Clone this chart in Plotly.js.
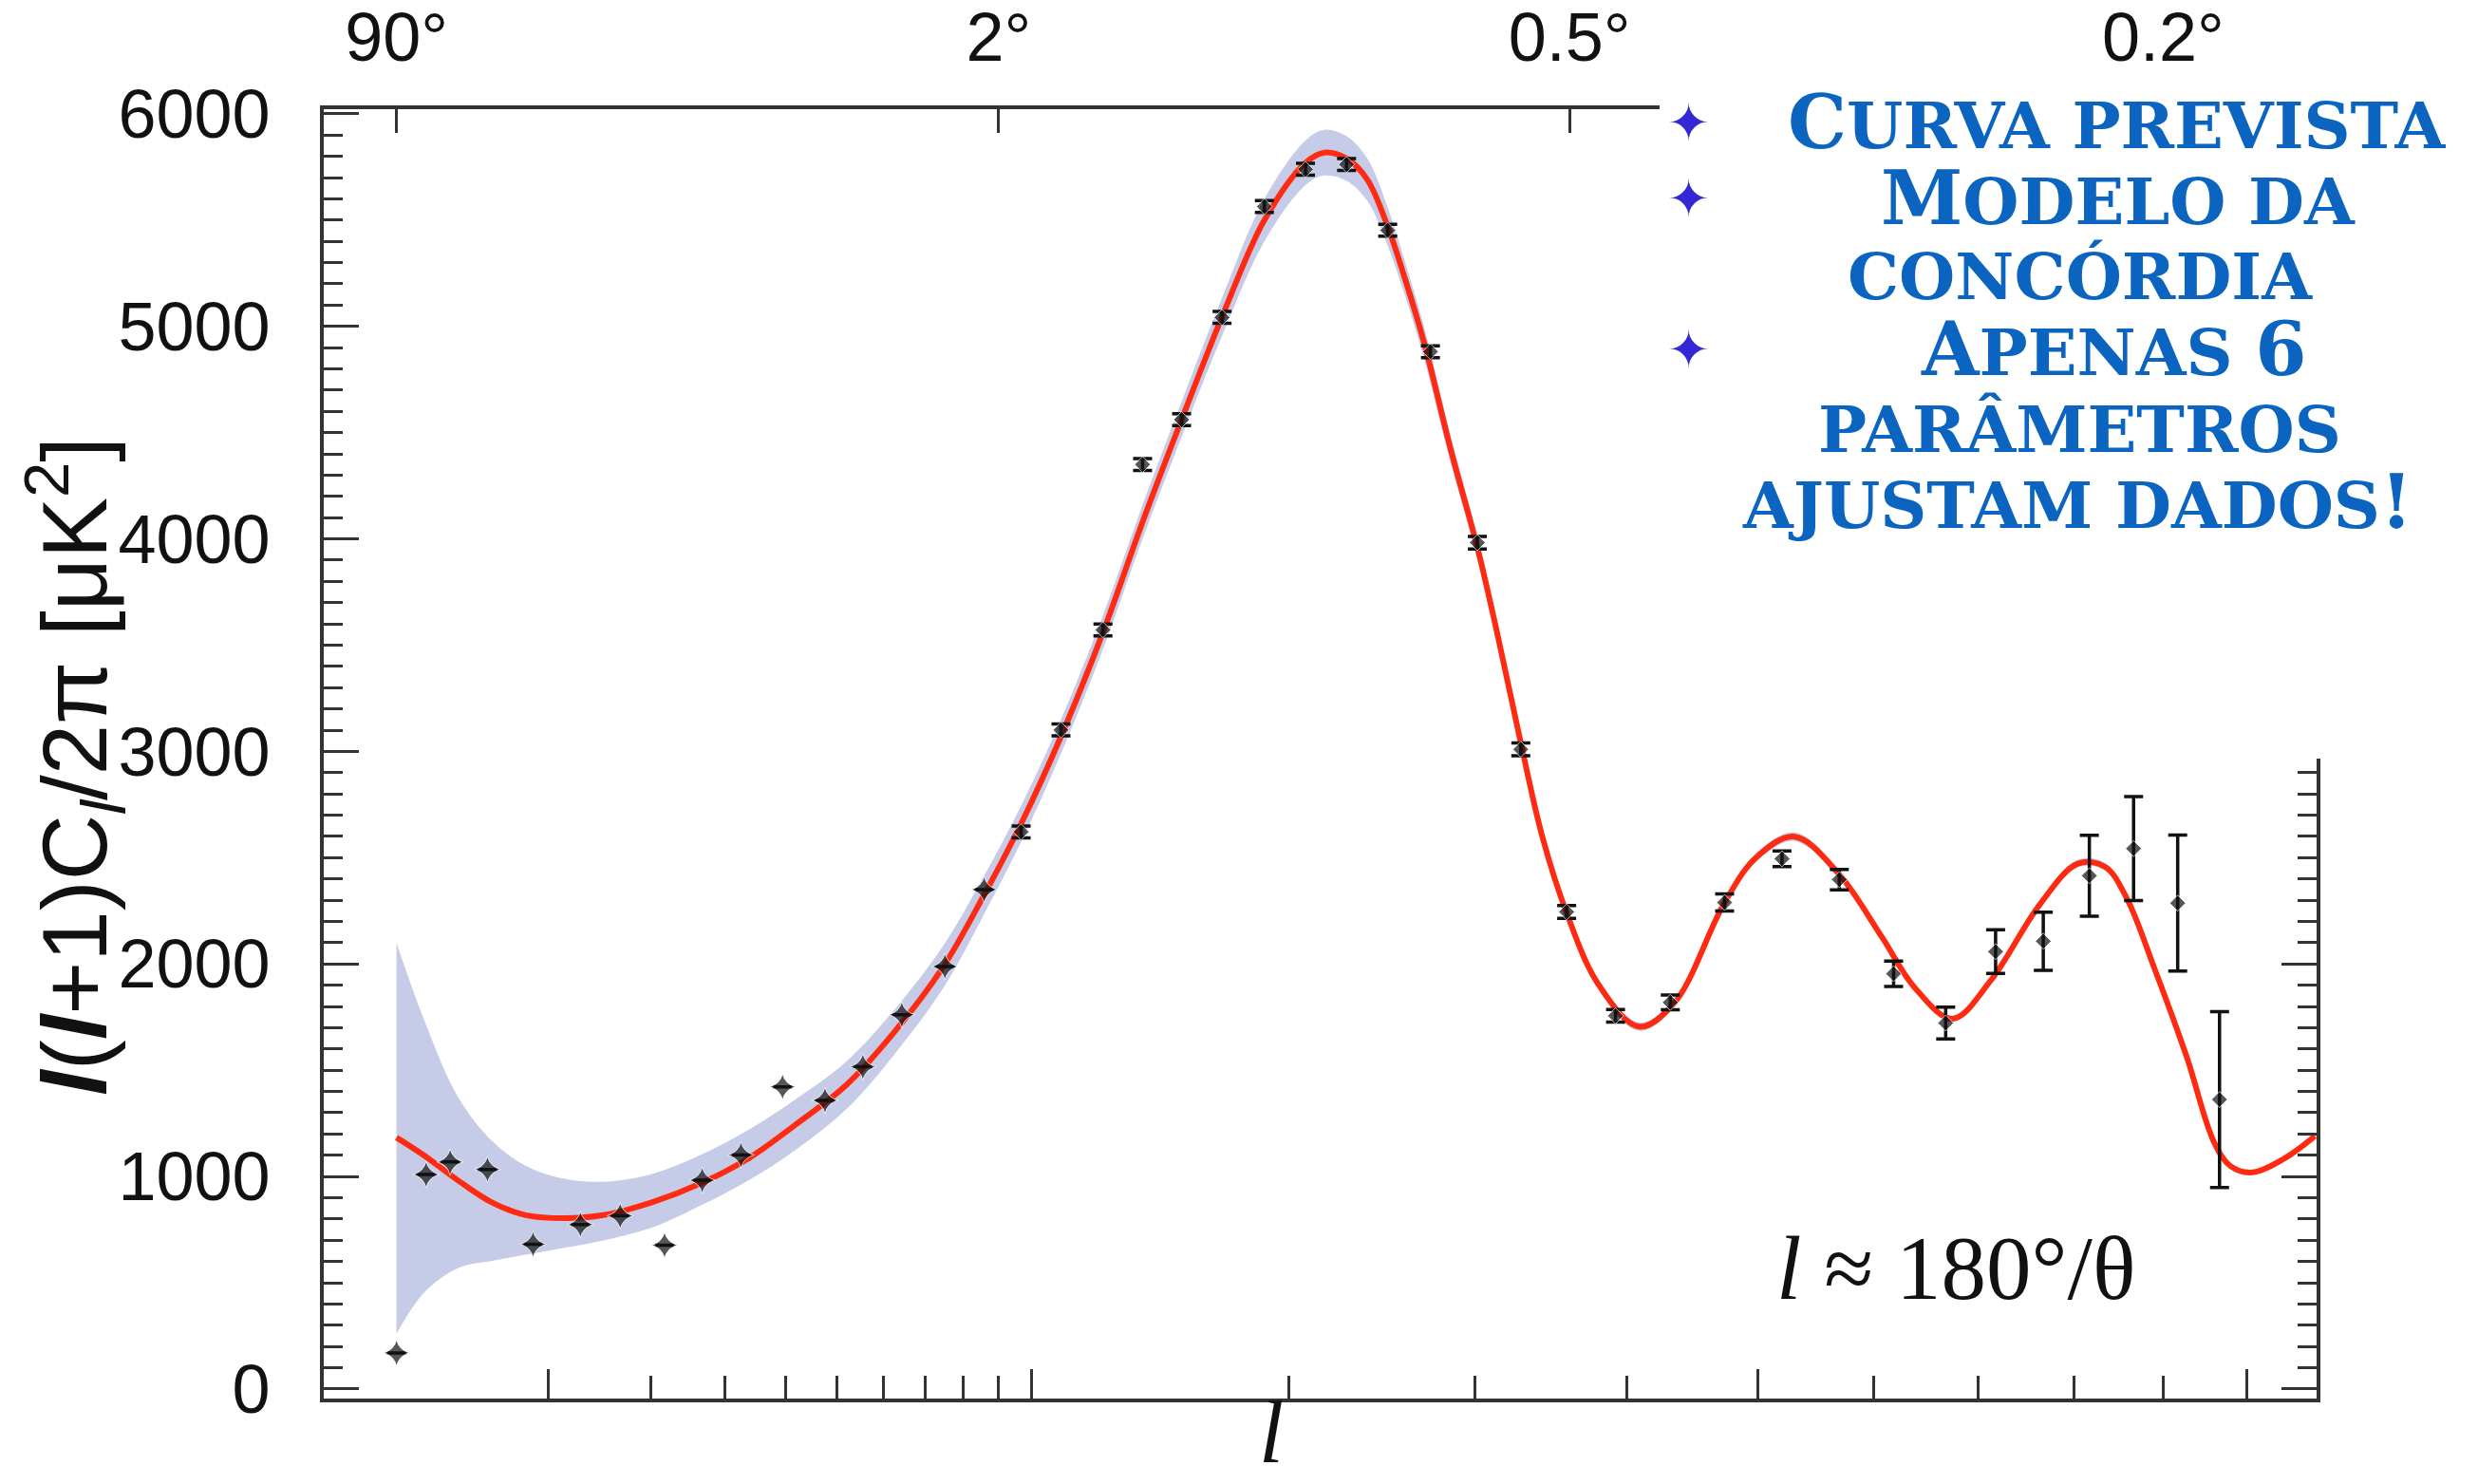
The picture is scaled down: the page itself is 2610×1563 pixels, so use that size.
<!DOCTYPE html>
<html>
<head>
<meta charset="utf-8">
<script src="https://cdn.plot.ly/plotly-3.0.1.min.js"></script>
<style>html,body{margin:0;padding:0;background:#fff;}#chart{width:2610px;height:1563px;}</style>
</head>
<body>
<div id="chart"></div>
<script>
// ---- data (multipole l, D_l = l(l+1)C_l/2pi in uK^2) ----
const ellData = [2, 3, 4, 5.9, 8.85, 12.7, 16.6, 21.7, 26.7, 32.5, 39.5, 47.5, 55.4, 64.3, 75.1, 85.8, 96.7, 109.3, 123.6, 138.1, 153.3, 170.1, 188.8, 208.1, 228.5, 250.1, 273.8, 301.3, 328.2, 358.1, 391.7, 431.5, 473.3, 520, 569.3, 618.5, 668, 717.6, 767, 816.6, 866, 917, 967];
const dlData = [170, 1009, 1068, 1033, 681, 774, 815, 677, 982, 1101, 1422, 1358, 1516, 1761, 1988, 2350, 2621, 3101, 3572, 4350, 4561, 5042, 5564, 5739, 5762, 5452, 4881, 3982, 3010, 2245, 1756, 1819, 2289, 2495, 2397, 1954, 1722, 2058, 2107, 2415, 2543, 2286, 1362];
const dlErr = [0, 0, 0, 0, 0, 0, 0, 0, 0, 0, 0, 0, 0, 0, 0, 0, 28, 28, 28, 28, 28, 28, 28, 28, 28, 28, 28, 30, 30, 30, 30, 35, 40, 37, 48, 60, 75, 103, 137, 190, 245, 320, 414];

const ellModel = [2, 2.9, 4.35, 6.15, 8.33, 11.31, 14.87, 20.16, 26.44, 33.77, 42.2, 51.8, 62.55, 74.6, 85.8, 96.7, 109.3, 123.6, 138.1, 153.3, 170.1, 188.8, 208.1, 217.3, 228.5, 239.3, 250.1, 259.7, 270.3, 285.5, 301.3, 313.9, 328.2, 342.0, 358.1, 379.5, 408.5, 434.6, 473.3, 498.8, 530.5, 568.2, 607.4, 637.9, 674.6, 712.5, 763.2, 804, 834, 858.4, 889.7, 927.6, 960.4, 980.3, 1007.1, 1048.3, 1087];
const dlModel = [1183, 1101, 982, 878, 818, 804, 818, 878, 967, 1086, 1250, 1429, 1680, 1985, 2325, 2660, 3070, 3560, 4080, 4561, 5045, 5500, 5770, 5818, 5790, 5690, 5470, 5220, 4920, 4420, 3960, 3540, 3040, 2600, 2240, 1906, 1705, 1817, 2289, 2502, 2599, 2428, 2129, 1891, 1742, 1921, 2279, 2472, 2457, 2308, 1981, 1563, 1161, 1049, 1019, 1086, 1190];
const bandHi = [2100, 1745, 1376, 1168, 1050, 989, 975, 1012, 1101, 1220, 1369, 1540, 1785, 2085, 2415, 2745, 3150, 3640, 4160, 4645, 5135, 5600, 5875, 5925, 5895, 5790, 5560, 5300, 4995, 4485, 4015, 3590, 3085, 2640, 2272, 1930, 1725, 1835, 2310, 2522, 2620, 2448, 2145, 1906, 1756, 1936, 2296, 2490, 2475, 2325, 1996, 1576, 1172, 1059, 1029, 1096, 1200];
const bandLo = [260, 450, 568, 603, 632, 664, 699, 759, 863, 982, 1131, 1315, 1575, 1885, 2235, 2575, 2990, 3480, 4000, 4480, 4955, 5400, 5665, 5710, 5685, 5590, 5380, 5140, 4845, 4355, 3905, 3490, 2995, 2560, 2208, 1882, 1685, 1800, 2270, 2482, 2578, 2408, 2113, 1876, 1728, 1906, 2262, 2454, 2439, 2291, 1966, 1550, 1150, 1039, 1009, 1076, 1180];

const majorTickL = [10, 100, 500, 1000];
const minorTickL = [20, 30, 40, 50, 60, 70, 80, 90, 200, 300, 400, 600, 700, 800, 900];
const angleDeg = [90, 2, 0.5, 0.2];
const angleLabels = ['90°', '2°', '0.5°', '0.2°'];

// axis scale of the original figure: position proportional to l^0.4
const P = 0.4;
const u = l => Math.pow(l, P);

const W = 2610, H = 1563;
const M = {l: 341, r: 170, t: 115, b: 90};
const PW = W - M.l - M.r, PH = H - M.t - M.b;
const fx = X => (X - M.l) / PW;
const fy = Y => (M.t + PH - Y) / PH;

const xRange = [0.748, 16.40];
const axisCol = '#333';

const traces = [
  {x: ellModel.map(u), y: bandLo, mode: 'lines', line: {width: 0, shape: 'spline'}, hoverinfo: 'skip', showlegend: false},
  {x: ellModel.map(u), y: bandHi, mode: 'lines', line: {width: 0, shape: 'spline'}, fill: 'tonexty', fillcolor: '#c6cce7', hoverinfo: 'skip', showlegend: false},
  {x: ellModel.map(u), y: dlModel, mode: 'lines', line: {color: '#ff2a12', width: 6, shape: 'spline'}, showlegend: false},
  {x: ellData.map(u), y: dlData, mode: 'markers',
   marker: {symbol: ellData.map((l, i) => i < 16 ? 'star-diamond' : 'diamond'), size: ellData.map((l, i) => i < 16 ? 20 : 13), color: '#111'},
   error_y: {type: 'data', array: dlErr, visible: true, thickness: 3.5, width: 10, color: '#111'},
   showlegend: false},
  {x: [u(2)], y: [0], xaxis: 'x2', mode: 'markers', marker: {opacity: 0}, hoverinfo: 'skip', showlegend: false}
];

const tickFont = {family: 'Liberation Sans, Arial, sans-serif', size: 72, color: '#111'};
const blue = '#0a64c0';
const capSpan = s => '<span style="font-size:78px">' + s + '</span>';
const textFont = {family: 'DejaVu Serif, serif', size: 68, color: blue, textcase: 'upper', weight: 700};
const bulletFont = {family: 'DejaVu Sans, sans-serif', size: 54, color: '#3526d6'};

const textLines = [
  {t: capSpan('C') + 'urva prevista', x: 2229, y: 129},
  {t: capSpan('M') + 'odelo da', x: 2231, y: 209},
  {t: 'concórdia', x: 2191, y: 291},
  {t: capSpan('A') + 'penas ' + capSpan('6'), x: 2226, y: 367},
  {t: 'parâmetros', x: 2190, y: 452},
  {t: 'ajustam dados' + capSpan('!'), x: 2188, y: 528}
];
const bulletsY = [130, 210, 368];

const annotations = [];
textLines.forEach(L => annotations.push({xref: 'paper', yref: 'paper', x: fx(L.x), y: fy(L.y), xanchor: 'center', yanchor: 'middle', text: L.t, showarrow: false, font: textFont}));
bulletsY.forEach(Y => annotations.push({xref: 'paper', yref: 'paper', x: fx(1778), y: fy(Y), xanchor: 'center', yanchor: 'middle', text: '✦', showarrow: false, font: bulletFont}));
annotations.push({xref: 'paper', yref: 'paper', x: fx(78), y: fy(807), xanchor: 'center', yanchor: 'middle', textangle: -90,
  text: '<b><i>l</i></b>(<b><i>l</i></b>+1)C<sub><i>l</i></sub>/2π [μK<sup>2</sup>]', showarrow: false,
  font: {family: 'Liberation Sans, Arial, sans-serif', size: 96, color: '#111'}});
annotations.push({xref: 'paper', yref: 'paper', x: fx(1339), y: fy(1562), xanchor: 'center', yanchor: 'bottom', text: '<i>l</i>', showarrow: false,
  font: {family: 'Liberation Serif, serif', size: 94, color: '#111'}});
annotations.push({xref: 'paper', yref: 'paper', x: fx(2060), y: fy(1336), xanchor: 'center', yanchor: 'middle', text: '<i>l</i> ≈ 180°/θ', showarrow: false,
  font: {family: 'Liberation Serif, serif', size: 95, color: '#111'}});

const layout = {
  width: W, height: H,
  margin: M,
  paper_bgcolor: '#fff', plot_bgcolor: '#fff',
  showlegend: false,
  xaxis: {
    range: xRange, tickmode: 'array', tickvals: majorTickL.map(u),
    showticklabels: false, ticks: 'inside', ticklen: 31, tickwidth: 3, tickcolor: axisCol,
    minor: {tickmode: 'array', tickvals: minorTickL.map(u), ticks: 'inside', ticklen: 24, tickwidth: 3, tickcolor: axisCol, showgrid: false},
    showline: true, linewidth: 4, linecolor: axisCol, mirror: true, showgrid: false, zeroline: false
  },
  xaxis2: {
    overlaying: 'x', side: 'top', range: xRange, tickmode: 'array',
    tickvals: angleDeg.map(d => u(180 / d)), ticktext: angleLabels,
    ticks: 'inside', ticklen: 25, tickwidth: 3, tickcolor: axisCol,
    showline: false, showgrid: false, zeroline: false,
    tickfont: {family: 'Liberation Sans, Arial, sans-serif', size: 72, color: '#111'}, ticklabelstandoff: 36
  },
  yaxis: {
    range: [-45, 6022], tickmode: 'linear', tick0: 0, dtick: 1000,
    ticks: 'inside', ticklen: 37, tickwidth: 3, tickcolor: axisCol,
    minor: {dtick: 100, tick0: 0, ticks: 'inside', ticklen: 20, tickwidth: 2.5, tickcolor: axisCol, showgrid: false},
    showline: true, linewidth: 4, linecolor: axisCol, mirror: 'ticks', showgrid: false, zeroline: false,
    tickfont: tickFont, ticklabelstandoff: 38
  },
  shapes: [
    {type: 'rect', xref: 'paper', yref: 'paper', x0: fx(1748), x1: 1.2, y0: fy(799), y1: fy(88), fillcolor: '#fff', line: {width: 0}, layer: 'above'}
  ],
  annotations: annotations
};

Plotly.newPlot('chart', traces, layout, {displayModeBar: false, responsive: false});
</script>
</body>
</html>
